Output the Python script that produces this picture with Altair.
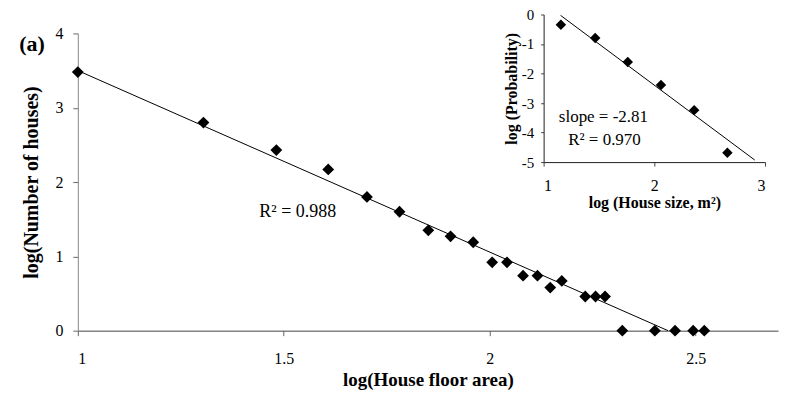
import altair as alt
import pandas as pd

# ---- main panel: log(house floor area) vs log(number of houses)
area_log = [1.0, 1.305, 1.482, 1.608, 1.702, 1.781, 1.851, 1.905, 1.960, 2.006, 2.042,
            2.081, 2.116, 2.147, 2.175, 2.232, 2.257, 2.280, 2.322, 2.401, 2.450, 2.494, 2.521]
houses_log = [3.48, 2.80, 2.43, 2.17, 1.80, 1.60, 1.35, 1.27, 1.19, 0.92, 0.92,
              0.74, 0.74, 0.58, 0.67, 0.46, 0.46, 0.46, 0.0, 0.0, 0.0, 0.0, 0.0]
main_fit_x = [1.0, 2.433]
main_fit_y = [3.50, 0.0]
main_note = ["R\u00b2 = 0.988"]
main_note_x = [1.534]
main_note_y = [1.60]
panel_label = ["(a)"]
panel_label_x = [0.889]
panel_label_y = [3.86]

# ---- inset: log(house size) vs log(probability)
size_log = [1.156, 1.466, 1.760, 2.060, 2.360, 2.660]
prob_log = [-0.35, -0.80, -1.61, -2.39, -3.24, -4.68]
inset_fit_x = [1.153, 2.907]
inset_fit_y = [-0.03, -4.93]
inset_notes = ["slope = -2.81", "R\u00b2 = 0.970"]
inset_note_x = [1.54, 1.55]
inset_note_y = [-3.48, -4.26]

FONT = "Liberation Serif"
W, H = 702, 298

main_df = pd.DataFrame({"x": area_log, "y": houses_log})
main_fit = pd.DataFrame({"x": main_fit_x, "y": main_fit_y})
main_txt = pd.DataFrame({"x": main_note_x, "y": main_note_y, "t": main_note})
lab_txt = pd.DataFrame({"x": panel_label_x, "y": panel_label_y, "t": panel_label})

xs = alt.Scale(domain=[1, 2.7], nice=False, zero=False)
ys = alt.Scale(domain=[0, 4], nice=False, zero=False)
x_axis = alt.Axis(values=[1, 1.5, 2, 2.5], format="~g", title="log(House floor area)",
                  grid=False, domainColor="#444", tickColor="#666", tickSize=5,
                  labelFont=FONT, labelFontSize=16, labelColor="black", labelPadding=15,
                  titleFont=FONT, titleFontSize=19, titleFontWeight="bold",
                  titleColor="black", titlePadding=4)
y_axis = alt.Axis(values=[0, 1, 2, 3, 4], format="~g", title="log(Number of houses)",
                  grid=False, domainColor="#888", tickColor="#666", tickSize=5,
                  labelFont=FONT, labelFontSize=16, labelColor="black", labelPadding=10,
                  titleFont=FONT, titleFontSize=20, titleFontWeight="bold",
                  titleColor="black", titlePadding=13)
MX = alt.X("x:Q", scale=xs, axis=x_axis)
MY = alt.Y("y:Q", scale=ys, axis=y_axis)

main_pts = alt.Chart(main_df).mark_point(shape="diamond", filled=True, color="black",
                                         size=140, opacity=1).encode(x=MX, y=MY)
main_line = alt.Chart(main_fit).mark_line(color="black", strokeWidth=1).encode(x=MX, y=MY)
main_r2 = alt.Chart(main_txt).mark_text(font=FONT, fontSize=18, color="black",
                                        align="center", baseline="middle").encode(
    x=MX, y=MY, text="t:N")
main_lab = alt.Chart(lab_txt).mark_text(font=FONT, fontSize=22, fontWeight="bold",
                                        color="black", align="center",
                                        baseline="middle").encode(x=MX, y=MY, text="t:N")
main = alt.layer(main_line, main_pts, main_r2, main_lab)

ins_df = pd.DataFrame({"x": size_log, "y": prob_log})
ins_fit = pd.DataFrame({"x": inset_fit_x, "y": inset_fit_y})
ins_txt = pd.DataFrame({"x": inset_note_x, "y": inset_note_y, "t": inset_notes})

ixs = alt.Scale(domain=[1, 3], range=[467, 689], nice=False, zero=False)
iys = alt.Scale(domain=[-5, 0], range=[129, -19], nice=False, zero=False)
ix_axis = alt.Axis(values=[1, 2, 3], format="~g", title="log (House size, m\u00b2)",
                   orient="bottom", offset=129 - H, grid=False, domainColor="#222",
                   tickColor="#444", tickSize=4,
                   labelFont=FONT, labelFontSize=16, labelColor="black", labelPadding=11,
                   titleFont=FONT, titleFontSize=16, titleFontWeight="bold",
                   titleColor="black", titlePadding=2)
iy_axis = alt.Axis(values=[0, -1, -2, -3, -4, -5], labelExpr="datum.value + ''",
                   title="log (Probability)", orient="left", offset=-467, grid=False,
                   domainColor="#222", tickColor="#444", tickSize=3,
                   labelFont=FONT, labelFontSize=15, labelColor="black", labelPadding=7,
                   titleFont=FONT, titleFontSize=16, titleFontWeight="bold",
                   titleColor="black", titlePadding=2)
IX = alt.X("x:Q", scale=ixs, axis=ix_axis)
IY = alt.Y("y:Q", scale=iys, axis=iy_axis)

ins_pts = alt.Chart(ins_df).mark_point(shape="diamond", filled=True, color="black",
                                       size=110, opacity=1).encode(x=IX, y=IY)
ins_line = alt.Chart(ins_fit).mark_line(color="black", strokeWidth=1).encode(x=IX, y=IY)
ins_notes = alt.Chart(ins_txt).mark_text(font=FONT, fontSize=17, color="black",
                                         align="center", baseline="middle").encode(
    x=IX, y=IY, text="t:N")
inset = alt.layer(ins_line, ins_pts, ins_notes)

chart = alt.layer(main, inset).resolve_scale(x="independent", y="independent").properties(
    width=W, height=H,
    autosize=alt.AutoSizeParams(type="none"),
    padding={"left": 70, "top": 25, "right": 5, "bottom": 60},
    background="white",
).configure_view(stroke=None)

chart.save("out.html", embed_options={"renderer": "svg", "actions": False})
